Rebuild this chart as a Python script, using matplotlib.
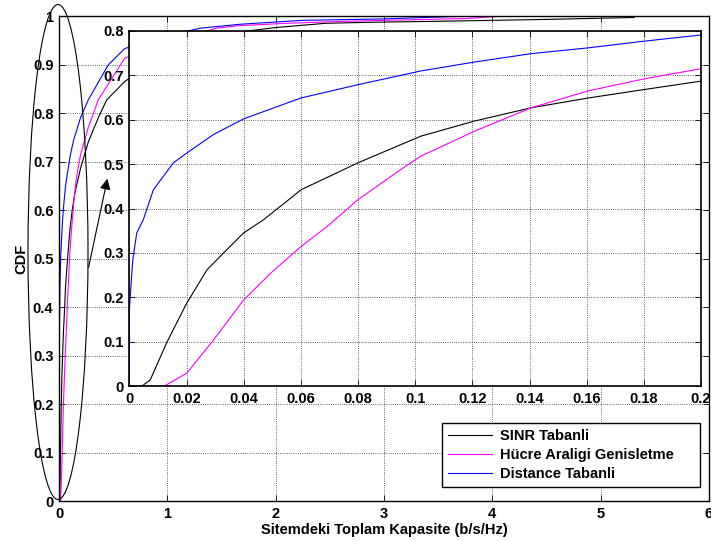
import matplotlib
matplotlib.use("Agg")
import matplotlib.pyplot as plt
from matplotlib.patches import Ellipse, FancyArrowPatch
from matplotlib.ticker import FormatStrFormatter

plt.rcParams['font.family'] = ['Liberation Sans', 'DejaVu Sans']
plt.rcParams['font.weight'] = 'bold'

# CDF curves (x = capacity in b/s/Hz, y = CDF)
sinr_x = [0, 0.0044, 0.0073, 0.0131, 0.0201, 0.0272, 0.033, 0.040, 0.047, 0.0558,
          0.060, 0.080, 0.095, 0.102, 0.1207, 0.1406, 0.1605, 0.180, 0.200,
          0.27, 0.362, 0.44, 0.607, 1.0, 1.6, 1.99, 2.46, 2.85, 3.46, 4.5, 5.31]
sinr_y = [0, 0, 0.0135, 0.098, 0.187, 0.262, 0.30, 0.345, 0.375, 0.42,
          0.442, 0.503, 0.544, 0.563, 0.597, 0.627, 0.649, 0.668, 0.687,
          0.74, 0.79, 0.827, 0.865, 0.925, 0.965, 0.976, 0.985, 0.987, 0.989, 0.993, 0.997]

hucre_x = [0, 0.0123, 0.0201, 0.0295, 0.040, 0.0494, 0.060, 0.0693, 0.080, 0.095,
           0.102, 0.1207, 0.1406, 0.1605, 0.180, 0.200, 0.27, 0.362, 0.607,
           1.0, 1.27, 1.45, 1.66, 2.1, 2.62, 3.78, 4.1]
hucre_y = [0, 0, 0.029, 0.104, 0.194, 0.254, 0.314, 0.36, 0.42, 0.488,
           0.518, 0.574, 0.627, 0.665, 0.692, 0.715, 0.77, 0.827, 0.913,
           0.950, 0.962, 0.975, 0.98, 0.985, 0.989, 0.995, 1.0]

dist_x = [0, 0, 0.0005, 0.0012, 0.0026, 0.0049, 0.0084, 0.0154, 0.0201, 0.0295,
          0.040, 0.060, 0.080, 0.102, 0.1207, 0.1406, 0.1605, 0.180, 0.200,
          0.27, 0.454, 0.607, 1.04, 1.31, 1.67, 1.955, 2.24, 3.0, 3.78]
dist_y = [0, 0.17, 0.22, 0.284, 0.345, 0.375, 0.442, 0.503, 0.525, 0.567,
          0.602, 0.649, 0.679, 0.71, 0.73, 0.749, 0.762, 0.777, 0.791,
          0.827, 0.899, 0.933, 0.962, 0.975, 0.983, 0.987, 0.991, 0.994, 1.0]

labels = ['SINR Tabanli', 'Hücre Araligi Genisletme', 'Distance Tabanli']
colors = ['black', '#ff00ff', '#0000ff']
series = [(sinr_x, sinr_y), (hucre_x, hucre_y), (dist_x, dist_y)]

fs = 10.5
W, H = 711.0, 541.0
fig = plt.figure(figsize=(7.11, 5.41), dpi=100)


def style(ax):
    ax.tick_params(direction='in', length=4, width=0.6, top=True, right=True,
                   labelsize=fs, pad=4)
    for t in ax.get_xticklabels() + ax.get_yticklabels():
        t.set_fontweight('bold')
    ax.grid(True, linestyle=':', color='#303030', linewidth=0.6)
    ax.xaxis.set_major_formatter(FormatStrFormatter('%g'))
    ax.yaxis.set_major_formatter(FormatStrFormatter('%g'))


# main axes
ax = fig.add_axes([0.0830, 0.0739, 0.9142, 0.8965])
for (x, y), c, lab in zip(series, colors, labels):
    ax.plot(x, y, color=c, lw=0.8, label=lab)
ax.set_xlim(0, 6)
ax.set_ylim(0, 1)
ax.set_xticks(range(0, 7))
ax.set_yticks([i / 10 for i in range(11)])
for s in ax.spines.values():
    s.set_linewidth(1.0)
style(ax)
ax.set_xlabel('Sitemdeki Toplam Kapasite (b/s/Hz)', fontsize=fs, fontweight='bold', labelpad=2)
ax.set_ylabel('CDF', fontsize=fs, fontweight='bold', labelpad=3)

# legend box stretched to the width seen in the reference
leg = ax.legend(loc='lower left', mode='expand',
                bbox_to_anchor=(442 / W, 54 / H, 258 / W, 64 / H),
                bbox_transform=fig.transFigure, borderaxespad=0,
                fancybox=False, framealpha=1, edgecolor='black',
                handlelength=3.0, handletextpad=0.6, labelspacing=0.35,
                borderpad=0.4, prop={'size': fs, 'weight': 'bold'})
leg.get_frame().set_linewidth(1.0)

# zoomed inset
axi = fig.add_axes([0.1819, 0.2865, 0.8041, 0.6562])
for (x, y), c in zip(series, colors):
    axi.plot(x, y, color=c, lw=0.8)
axi.set_xlim(0, 0.2)
axi.set_ylim(0, 0.8)
axi.set_xticks([i * 0.02 for i in range(11)])
axi.set_yticks([i / 10 for i in range(9)])
for s in axi.spines.values():
    s.set_linewidth(1.2)
style(axi)

# ellipse around the zoomed region and arrow to the inset
ell = Ellipse((58 / W, 1 - 252 / H), 60 / W, 495 / H, transform=fig.transFigure,
              fill=False, edgecolor='black', lw=0.8)
fig.add_artist(ell)
arr = FancyArrowPatch((88 / W, 1 - 270 / H), (108 / W, 1 - 176 / H),
                      transform=fig.transFigure, arrowstyle='-|>',
                      mutation_scale=16, color='black', lw=0.8)
fig.add_artist(arr)

fig.savefig('out.png', dpi=100)
